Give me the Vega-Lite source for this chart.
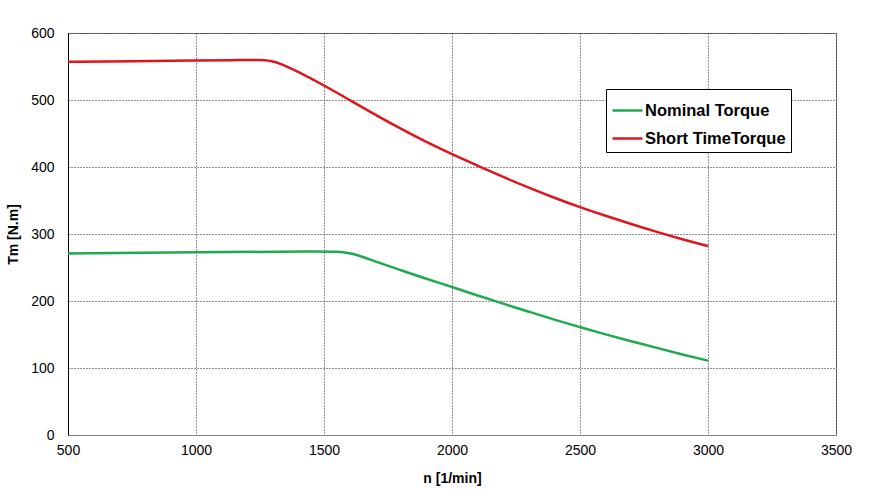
{
  "$schema": "https://vega.github.io/schema/vega-lite/v6.json",
  "autosize": "none",
  "width": 768,
  "height": 402,
  "padding": {"left": 68, "top": 33, "right": 35, "bottom": 66},
  "background": "white",
  "config": {
    "font": "Liberation Sans",
    "view": {"stroke": "#808080", "strokeWidth": 1}
  },
  "data": {
    "values": [
      {"n": 500, "T": 557, "s": "Short TimeTorque"},
      {"n": 750, "T": 558, "s": "Short TimeTorque"},
      {"n": 1000, "T": 559, "s": "Short TimeTorque"},
      {"n": 1150, "T": 559.5, "s": "Short TimeTorque"},
      {"n": 1250, "T": 560, "s": "Short TimeTorque"},
      {"n": 1290, "T": 559, "s": "Short TimeTorque"},
      {"n": 1340, "T": 553, "s": "Short TimeTorque"},
      {"n": 1400, "T": 542, "s": "Short TimeTorque"},
      {"n": 1500, "T": 522, "s": "Short TimeTorque"},
      {"n": 1600, "T": 500, "s": "Short TimeTorque"},
      {"n": 1700, "T": 478, "s": "Short TimeTorque"},
      {"n": 1800, "T": 457, "s": "Short TimeTorque"},
      {"n": 1900, "T": 437, "s": "Short TimeTorque"},
      {"n": 2000, "T": 419, "s": "Short TimeTorque"},
      {"n": 2100, "T": 402, "s": "Short TimeTorque"},
      {"n": 2200, "T": 385, "s": "Short TimeTorque"},
      {"n": 2300, "T": 369, "s": "Short TimeTorque"},
      {"n": 2400, "T": 354, "s": "Short TimeTorque"},
      {"n": 2500, "T": 340, "s": "Short TimeTorque"},
      {"n": 2600, "T": 327, "s": "Short TimeTorque"},
      {"n": 2700, "T": 315, "s": "Short TimeTorque"},
      {"n": 2800, "T": 303, "s": "Short TimeTorque"},
      {"n": 2900, "T": 292, "s": "Short TimeTorque"},
      {"n": 3000, "T": 282, "s": "Short TimeTorque"},
      {"n": 500, "T": 271, "s": "Nominal Torque"},
      {"n": 1000, "T": 273, "s": "Nominal Torque"},
      {"n": 1500, "T": 274, "s": "Nominal Torque"},
      {"n": 1570, "T": 273.5, "s": "Nominal Torque"},
      {"n": 1610, "T": 271, "s": "Nominal Torque"},
      {"n": 1650, "T": 266, "s": "Nominal Torque"},
      {"n": 1700, "T": 259, "s": "Nominal Torque"},
      {"n": 1800, "T": 246, "s": "Nominal Torque"},
      {"n": 1900, "T": 233, "s": "Nominal Torque"},
      {"n": 2000, "T": 221, "s": "Nominal Torque"},
      {"n": 2100, "T": 208, "s": "Nominal Torque"},
      {"n": 2200, "T": 196, "s": "Nominal Torque"},
      {"n": 2300, "T": 184, "s": "Nominal Torque"},
      {"n": 2400, "T": 172, "s": "Nominal Torque"},
      {"n": 2500, "T": 161, "s": "Nominal Torque"},
      {"n": 2600, "T": 150, "s": "Nominal Torque"},
      {"n": 2700, "T": 140, "s": "Nominal Torque"},
      {"n": 2800, "T": 130, "s": "Nominal Torque"},
      {"n": 2900, "T": 120, "s": "Nominal Torque"},
      {"n": 3000, "T": 111, "s": "Nominal Torque"}
    ]
  },
  "mark": {"type": "line", "strokeWidth": 2.5, "interpolate": "basis"},
  "encoding": {
    "x": {
      "field": "n",
      "type": "quantitative",
      "scale": {"domain": [500, 3500], "nice": false, "zero": false},
      "axis": {
        "title": "n [1/min]",
        "titleFontSize": 14,
        "titleFontWeight": "bold",
        "titleColor": "black",
        "titlePadding": 14,
        "values": [500, 1000, 1500, 2000, 2500, 3000, 3500],
        "format": "d",
        "labelFontSize": 14,
        "labelColor": "black",
        "labelPadding": 8,
        "ticks": false,
        "domainColor": "#808080",
        "grid": true,
        "gridColor": "#222222",
        "gridDash": [1, 2],
        "gridOpacity": 1,
        "labelFlush": false
      }
    },
    "y": {
      "field": "T",
      "type": "quantitative",
      "scale": {"domain": [0, 600], "nice": false},
      "axis": {
        "title": "Tm [N.m]",
        "titleFontSize": 14,
        "titleFontWeight": "bold",
        "titleColor": "black",
        "titlePadding": 10,
        "values": [0, 100, 200, 300, 400, 500, 600],
        "format": "d",
        "labelFontSize": 14,
        "labelColor": "black",
        "labelPadding": 14,
        "ticks": false,
        "domainColor": "black",
        "grid": true,
        "gridColor": "#222222",
        "gridDash": [1, 2],
        "gridOpacity": 1
      }
    },
    "color": {
      "field": "s",
      "type": "nominal",
      "scale": {"domain": ["Nominal Torque", "Short TimeTorque"], "range": ["#1faa4f", "#e0141c"]},
      "legend": {
        "title": null,
        "orient": "none",
        "legendX": 538,
        "legendY": 56,
        "symbolType": "stroke",
        "symbolSize": 900,
        "symbolStrokeWidth": 2.5,
        "labelFontSize": 16.5,
        "labelFontWeight": "bold",
        "labelColor": "black",
        "labelOffset": 1,
        "rowPadding": 3,
        "padding": 5,
        "fillColor": "white",
        "strokeColor": "black",
        "labelLimit": 300
      }
    }
  }
}
